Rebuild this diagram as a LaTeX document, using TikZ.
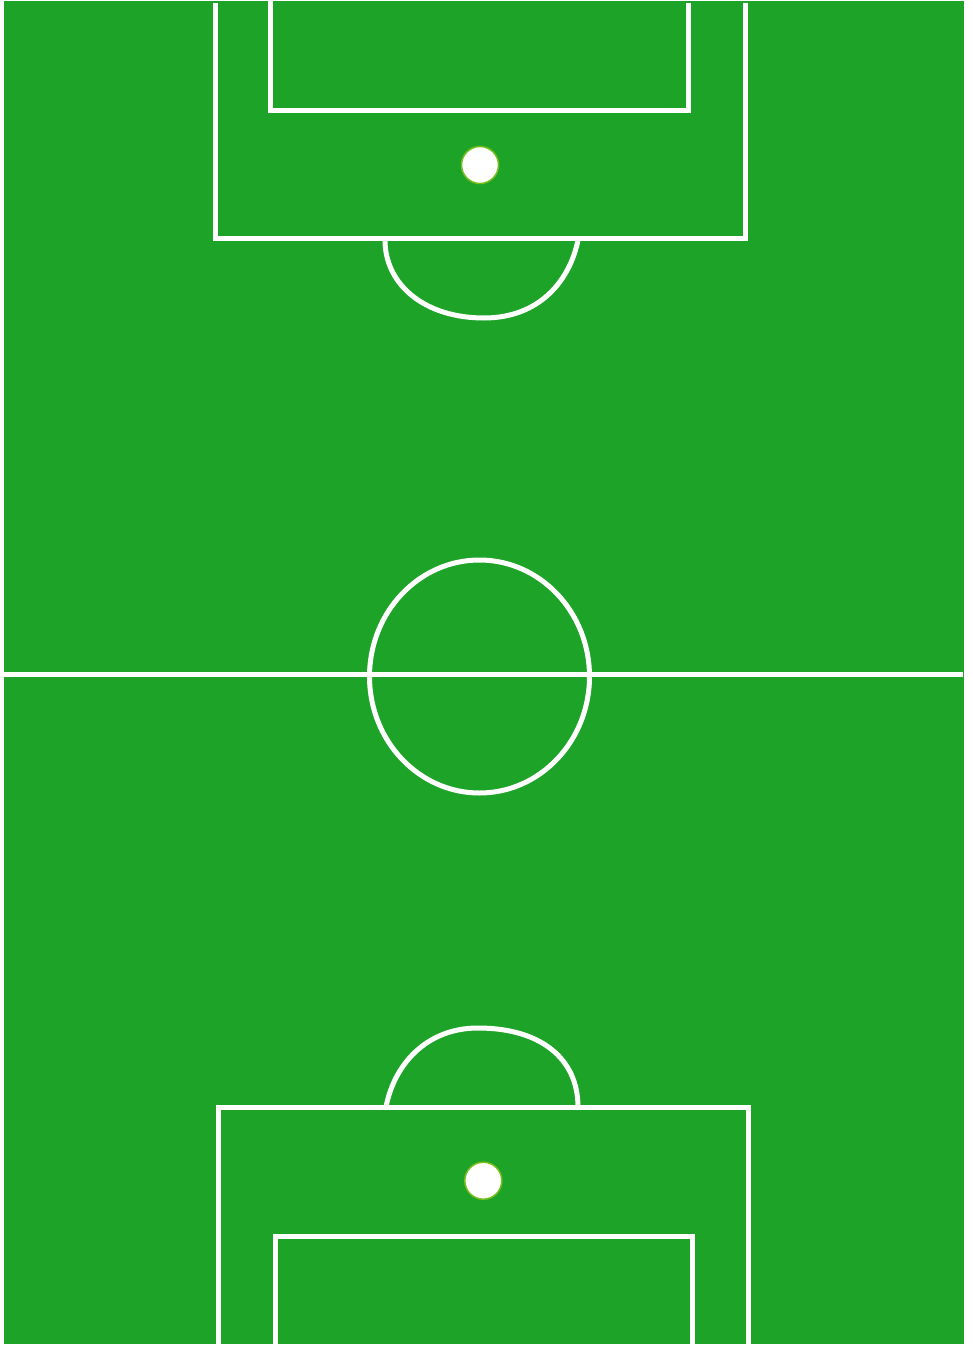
\documentclass[tikz,border=0pt]{standalone}
\usepackage{tikz}
\definecolor{pitch}{RGB}{29,163,39}
\definecolor{spotring}{RGB}{120,190,30}
\tikzset{
  pitchline/.style={draw=white, line width=5pt, line join=miter},
  spotdot/.style={fill=white, draw=spotring, line width=1.5pt}
}
\begin{document}
\begin{tikzpicture}[x=1pt,y=-1pt]
\useasboundingbox (0,0) rectangle (972,1346);
\fill[white] (0,0) rectangle (972,1346);
\fill[pitch] (4,1) rectangle (964,1344);
% top penalty area and goal area
\draw[pitchline] (215.5,3) -- (215.5,238) -- (745,238) -- (745,3);
\draw[pitchline] (270.5,1) -- (270.5,110) -- (688,110) -- (688,3);
% top penalty arc
\draw[pitchline] (385,240) .. controls (385,285) and (425,318) .. (484,318)
  .. controls (540,318) and (570,280) .. (578,240);
% top penalty spot
\fill[spotdot] (480,165) circle (18.5);
% halfway line and centre circle
\draw[pitchline] (4,674) -- (963,674);
\draw[pitchline] (479.5,676.5) ellipse (110 and 116.5);
% bottom penalty arc
\draw[pitchline] (386,1107) .. controls (394,1065) and (426,1028) .. (478,1028)
  .. controls (540,1028) and (578,1058) .. (578,1107);
% bottom penalty area and goal area
\draw[pitchline] (218,1344) -- (218,1107.5) -- (748,1107.5) -- (748,1344);
\draw[pitchline] (275,1344) -- (275,1236.5) -- (692,1236.5) -- (692,1344);
% bottom penalty spot
\fill[spotdot] (483.3,1180.7) circle (18.5);
\end{tikzpicture}
\end{document}
